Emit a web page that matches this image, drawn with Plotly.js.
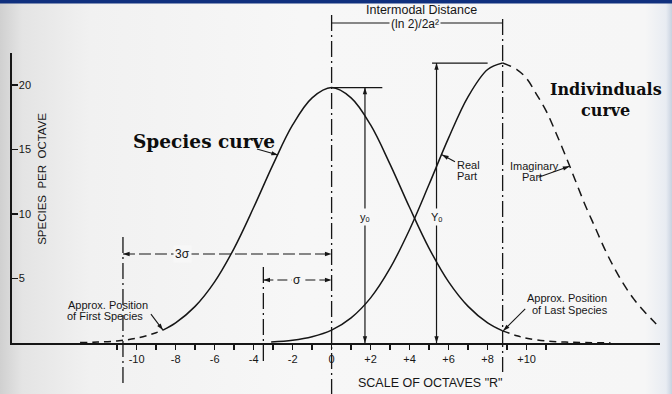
<!DOCTYPE html>
<html><head><meta charset="utf-8">
<script src="https://cdn.plot.ly/plotly-3.0.1.min.js"></script>
<style>
html,body{margin:0;padding:0;}
body{width:672px;height:394px;overflow:hidden;background:linear-gradient(to right,#d0d0d0 0px,#e4e4e4 22px,#f1f1f1 90px,#f7f7f7 300px,#f6f6f6 645px,#e8ecf2 666px,#c8d2e0 672px);}
#chart{width:672px;height:394px;}
</style></head><body><div id="chart"></div>
<script>
// ---- data (R = octaves, Y = species per octave) ----
const speciesDashLeftR = [-12.9, -12, -11, -10, -9, -8.65];
const speciesDashLeftY = [0.03, 0.07, 0.16, 0.37, 0.8, 1.0];
const speciesR = [-8.65, -8, -7, -6, -5, -4, -3, -2, -1, 0, 1, 2, 3, 4, 5, 6, 7, 8, 8.77];
const speciesY = [1.0, 1.56, 2.84, 4.74, 7.34, 10.5, 13.85, 16.9, 19.0, 19.8, 19.0, 16.9, 13.85, 10.5, 7.34, 4.74, 2.84, 1.56, 0.94];
const speciesDashRightR = [8.77, 9.5, 10, 11, 12, 13, 14.3];
const speciesDashRightY = [0.94, 0.56, 0.37, 0.16, 0.07, 0.03, 0.01];
const indivR = [-3.1, -2, -1, 0, 1, 2, 3, 4, 5, 6, 7, 8, 8.77];
const indivY = [0.08, 0.22, 0.49, 1.0, 1.95, 3.5, 5.8, 8.8, 12.3, 15.9, 19.1, 21.2, 21.7];
const indivDashR = [8.77, 9.5, 10, 10.5, 11, 11.5, 12, 12.5, 13, 13.5, 14, 14.5, 15, 15.5, 16, 16.5, 16.85];
const indivDashY = [21.7, 21.2, 20.5, 19.3, 18.0, 16.3, 14.5, 12.6, 10.7, 9.0, 7.3, 5.8, 4.5, 3.4, 2.5, 1.7, 1.15];

const xTickVals = [-10, -8, -6, -4, -2, 0, 2, 4, 6, 8, 10];
const xTickText = ["-10", "-8", "-6", "-4", "-2", "0", "+2", "+4", "+6", "+8", "+10"];
const xMinorVals = [-11, -9, -7, -5, -3, -1, 1, 3, 5, 7, 9, 11];
const yTickVals = [5, 10, 15, 20];
const yTickText = ["5", "10", "15", "20"];

// reference positions (octaves)
const modeSpecies = 0, modeIndiv = 8.77, sigmaPos = -3.5, threeSigmaPos = -10.7;
const y0Pos = 1.71, Y0Pos = 5.38;
const y0Height = Math.max(...speciesY), Y0Height = Math.max(...indivY);
const firstSpecies = [-8.65, 1.0], lastSpecies = [8.8, 0.94];

// ---- styling ----
const INK = '#161616';
const SANS = 'Liberation Sans, Arial, DejaVu Sans, sans-serif';
const SERIF = 'DejaVu Serif, serif';
const BG = '#f7f7f7';
// plot box: top 53px, bottom 343px
const py = p => (343 - p) / 290;   // pixel row -> paper
const yd = p => (343 - p) / 12.9;  // pixel row -> data

const lineTrace = (x, y, dash) => ({
  type: 'scatter', mode: 'lines', x: x, y: y, cliponaxis: false, hoverinfo: 'skip',
  line: {color: INK, width: 1.5, shape: 'spline', smoothing: 1, dash: dash || 'solid'}
});
const traces = [
  lineTrace(speciesDashLeftR, speciesDashLeftY, '7px,5px'),
  lineTrace(speciesR, speciesY),
  lineTrace(speciesDashRightR, speciesDashRightY, '7px,5px'),
  lineTrace(indivR, indivY),
  lineTrace(indivDashR, indivDashY, '9px,6px')
];

// arrowheads: tip position + tail offset in screen pixels (ax right, ay down)
const heads = [
  {x: y0Pos, y: y0Height, ax: 0, ay: 20}, {x: y0Pos, y: 0, ax: 0, ay: -20},
  {x: Y0Pos, y: Y0Height, ax: 0, ay: 20}, {x: Y0Pos, y: 0, ax: 0, ay: -20},
  {x: modeSpecies, y: yd(23), ax: 20, ay: 0}, {x: modeIndiv, y: yd(23), ax: -20, ay: 0},
  {x: threeSigmaPos, y: yd(254), ax: 18, ay: 0}, {x: modeSpecies, y: yd(254), ax: -18, ay: 0},
  {x: sigmaPos, y: yd(280), ax: 12, ay: 0}, {x: modeSpecies, y: yd(280), ax: -12, ay: 0}
];
const pointers = [
  {x: -2.75, y: 14.57, ax: -21, ay: -6},
  {x: 5.66, y: 14.6, ax: 13, ay: 7},
  {x: 12.2, y: 13.7, ax: -31, ay: 11},
  {x: firstSpecies[0], y: firstSpecies[1], ax: -12, ay: -16},
  {x: lastSpecies[0], y: lastSpecies[1], ax: 22, ay: -22}
];
const allHeads = heads.concat(pointers);
traces.push({
  type: 'scatter', mode: 'markers', cliponaxis: false, hoverinfo: 'skip',
  x: allHeads.map(h => h.x), y: allHeads.map(h => h.y),
  marker: {symbol: 'arrow', size: 7, color: INK, line: {width: 0},
    angle: allHeads.map(h => Math.atan2(-h.ax, h.ay) * 180 / Math.PI)}
});

const DD = '16px,4px,2px,4px';
const vline = (x, top, bottom, dash) => ({type: 'line', xref: 'x', yref: 'paper', x0: x, x1: x, y0: py(top), y1: py(bottom), line: {color: INK, width: 1.3, dash: dash || DD}});
const hline = (x0, x1, y, dash, w) => ({type: 'line', xref: 'x', yref: 'y', x0: x0, x1: x1, y0: y, y1: y, line: {color: INK, width: w || 1.2, dash: dash || 'solid'}});
const shapes = [
  {type: 'rect', xref: 'paper', yref: 'paper', x0: -0.02, x1: 1.02, y0: py(3.5), y1: py(-1), fillcolor: '#10307e', line: {width: 0}},
  vline(modeSpecies, 15, 394),
  vline(modeIndiv, 19, 372),
  vline(threeSigmaPos, 237, 386),
  vline(sigmaPos, 267, 362),
  {type: 'line', xref: 'x', yref: 'paper', x0: modeSpecies, x1: modeIndiv, y0: py(23), y1: py(23), line: {color: INK, width: 1.2}},
  hline(threeSigmaPos, modeSpecies, yd(254), '12px,4px'),
  hline(sigmaPos, modeSpecies, yd(280), '10px,4px'),
  {type: 'line', xref: 'x', yref: 'y', x0: y0Pos, x1: y0Pos, y0: 0, y1: y0Height, line: {color: INK, width: 1.2}},
  {type: 'line', xref: 'x', yref: 'y', x0: Y0Pos, x1: Y0Pos, y0: 0, y1: Y0Height, line: {color: INK, width: 1.2}},
  hline(modeSpecies, 2.6, y0Height),
  hline(5.15, 8.0, Y0Height)
].concat(pointers.map(p => ({
  type: 'line', xref: 'x', yref: 'y', xsizemode: 'pixel', ysizemode: 'pixel',
  xanchor: p.x, yanchor: p.y, x0: p.ax, x1: 0, y0: -p.ay, y1: 0,
  line: {color: INK, width: 1.1}
})));

const txt = (text, x, y, size, opts) => Object.assign({x: x, y: y, xref: 'x', yref: 'y', text: text, showarrow: false,
  font: {family: SANS, size: size, color: INK}, xanchor: 'center', yanchor: 'middle'}, opts || {});

const annotations = [
  txt('Species curve', -6.52, yd(142), 18.5, {font: {family: SERIF, size: 18.5, color: '#0d0d0d', weight: 'bold'}}),
  txt('Indivinduals', 14.07, yd(90), 16, {font: {family: SERIF, size: 16, color: '#0d0d0d', weight: 'bold'}}),
  txt('curve', 14.07, yd(111), 16, {font: {family: SERIF, size: 16, color: '#0d0d0d', weight: 'bold'}}),
  txt('Real', 6.32, yd(165), 11, {xanchor: 'left'}),
  txt('Part', 6.32, yd(176), 11, {xanchor: 'left'}),
  txt('Imaginary', 9.04, yd(166), 11, {xanchor: 'left'}),
  txt('Part', 9.66, yd(177), 11, {xanchor: 'left'}),
  txt('Approx. Position', -13.6, yd(305), 11, {xanchor: 'left'}),
  txt('of First Species', -13.65, yd(316), 11, {xanchor: 'left'}),
  txt('Approx. Position', 9.91, yd(298), 11, {xanchor: 'left'}),
  txt('of Last Species', 10.17, yd(310), 11, {xanchor: 'left'}),
  txt('yₒ', y0Pos, yd(217), 11, {bgcolor: BG, borderpad: 2}),
  txt('Yₒ', Y0Pos, yd(217), 11, {bgcolor: BG, borderpad: 2}),
  txt('3σ', -7.67, yd(254), 12, {bgcolor: BG, borderpad: 1}),
  txt('σ', -1.78, yd(280), 12, {bgcolor: BG, borderpad: 1}),
  txt('Intermodal Distance', 4.63, py(10), 12.5, {yref: 'paper'}),
  txt('(ln 2)/2a²', 4.27, py(24), 12, {yref: 'paper', bgcolor: BG, borderpad: 1}),
  txt('SPECIES  PER  OCTAVE', -14.86, yd(179), 11.5, {textangle: -90}),
  txt('SCALE OF OCTAVES "R"', 5.09, py(383), 12.5, {yref: 'paper'})
];

const layout = {
  width: 672, height: 394,
  margin: {l: 12, r: 12, t: 53, b: 51, pad: 0},
  paper_bgcolor: 'rgba(0,0,0,0)', plot_bgcolor: 'rgba(0,0,0,0)',
  showlegend: false,
  xaxis: {range: [-16.39, 16.84], showgrid: false, zeroline: false, showline: true, linecolor: INK, linewidth: 2,
    ticks: 'outside', ticklen: 5, tickwidth: 1.3, tickcolor: INK, tickvals: xTickVals, ticktext: xTickText,
    tickfont: {family: SANS, size: 11, color: INK},
    minor: {tickvals: xMinorVals, ticks: 'outside', ticklen: 5, tickwidth: 1.3, tickcolor: INK, showgrid: false}},
  yaxis: {range: [0, 22.48], showgrid: false, zeroline: false, showline: true, linecolor: INK, linewidth: 2,
    ticks: 'inside', ticklen: 6, tickwidth: 1.3, tickcolor: INK, tickvals: yTickVals, ticktext: yTickText,
    ticklabelposition: 'inside', tickfont: {family: SANS, size: 11, color: INK}},
  shapes: shapes,
  annotations: annotations
};
Plotly.newPlot('chart', traces, layout, {staticPlot: true, displayModeBar: false});
</script></body></html>
